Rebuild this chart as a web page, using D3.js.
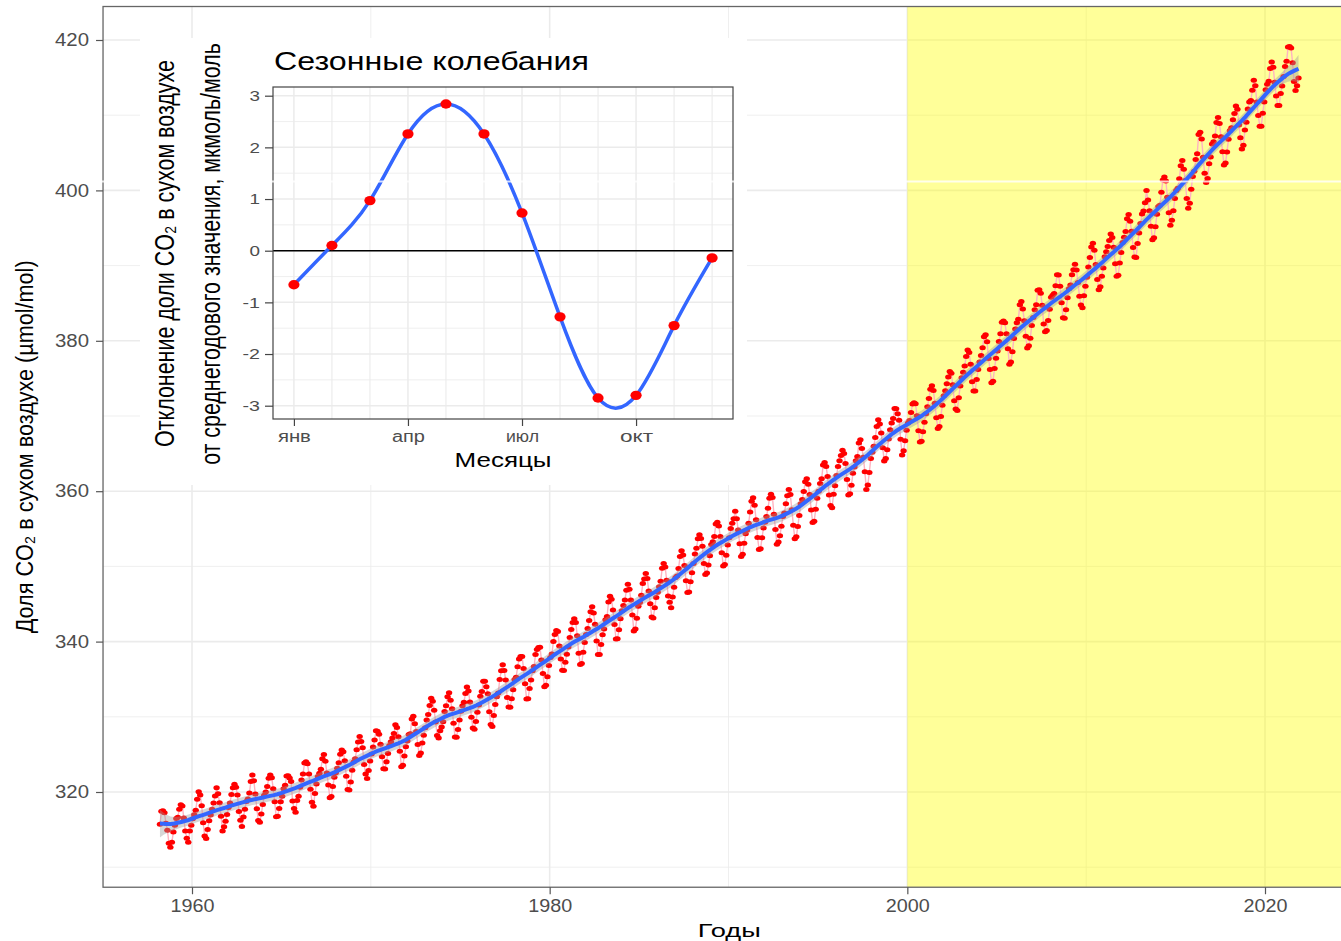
<!DOCTYPE html>
<html><head><meta charset="utf-8">
<script src="https://cdn.jsdelivr.net/npm/d3@7"></script>
<style>body{margin:0;background:#fff}svg{display:block}</style>
</head><body><svg id="chart" width="1341" height="941"></svg>
<script>
// ---------------- DATA ----------------
const co2Years = [1958,1959,1960,1961,1962,1963,1964,1965,1966,1967,1968,1969,1970,1971,1972,1973,1974,1975,1976,1977,1978,1979,1980,1981,1982,1983,1984,1985,1986,1987,1988,1989,1990,1991,1992,1993,1994,1995,1996,1997,1998,1999,2000,2001,2002,2003,2004,2005,2006,2007,2008,2009,2010,2011,2012,2013,2014,2015,2016,2017,2018,2019,2020,2021];
// monthly CO2 (µmol/mol), Jan..Dec for each year above
const co2ByYear = [
[null,null,315.70,317.45,317.51,317.24,315.86,314.93,313.20,312.66,313.33,314.67],
[315.58,316.49,316.65,317.72,318.29,318.15,316.54,314.80,313.84,313.33,314.81,315.58],
[316.43,316.98,317.58,319.03,320.04,319.59,318.18,315.91,314.16,313.83,315.00,316.19],
[316.93,317.70,318.54,319.48,320.58,319.77,318.57,316.79,314.80,315.38,316.10,317.01],
[317.94,318.55,319.68,320.57,321.02,320.62,319.61,317.40,316.25,315.42,316.69,317.70],
[318.74,319.07,319.86,321.38,322.25,321.48,319.74,317.77,316.21,315.99,317.07,318.35],
[319.57,320.01,320.74,321.84,322.26,321.89,320.44,318.70,316.70,316.79,317.79,318.71],
[319.44,320.44,320.89,322.13,322.16,321.87,321.39,318.81,317.81,317.30,318.87,319.42],
[320.62,321.59,322.39,323.87,324.01,323.75,322.39,320.37,318.64,318.10,319.79,321.08],
[322.07,322.50,323.04,324.42,325.00,324.09,322.54,320.92,319.25,319.39,320.73,321.96],
[322.57,323.15,323.89,325.02,325.57,325.36,324.14,322.11,320.33,320.25,321.32,322.89],
[324.00,324.42,325.63,326.66,327.38,326.71,325.88,323.66,322.38,321.78,322.85,324.12],
[325.06,325.98,326.93,328.13,328.08,327.67,326.34,324.69,323.10,323.06,324.01,325.13],
[326.17,326.68,327.17,327.79,328.93,328.57,327.36,325.43,323.36,323.56,324.80,326.01],
[326.77,327.63,327.75,329.72,330.07,329.09,328.04,326.32,324.84,325.20,326.50,327.55],
[328.55,329.56,330.30,331.50,332.48,332.07,330.87,329.31,327.51,327.18,328.16,328.64],
[329.35,330.71,331.48,332.65,333.19,332.20,331.07,329.15,327.33,327.28,328.31,329.58],
[330.73,331.46,331.94,333.11,333.95,333.42,331.97,329.95,328.50,328.36,329.38,330.62],
[331.56,332.74,333.36,334.74,334.72,333.98,333.08,330.68,328.96,328.72,330.16,331.62],
[332.68,333.17,334.96,336.14,336.93,336.17,334.88,332.56,331.29,331.27,332.41,333.60],
[334.95,335.25,336.66,337.69,338.03,338.01,336.41,334.41,332.37,332.41,333.75,334.90],
[336.14,336.69,338.27,338.95,339.21,339.26,337.54,335.75,333.98,334.19,335.31,336.81],
[337.90,338.34,340.01,340.93,341.48,341.33,339.40,337.70,336.19,336.15,337.27,338.32],
[339.29,340.55,341.61,342.53,343.03,342.54,340.78,338.44,336.95,337.08,338.58,339.88],
[340.96,341.73,342.81,343.97,344.63,343.79,342.32,340.09,338.28,338.29,339.60,340.90],
[341.68,342.90,343.33,345.25,346.03,345.63,344.19,342.27,340.35,340.38,341.59,343.05],
[344.10,344.79,345.52,346.84,347.63,346.97,345.53,343.55,341.40,341.67,343.10,344.70],
[345.21,346.16,347.74,348.34,349.06,348.38,346.72,345.02,343.27,343.13,344.49,345.88],
[346.56,347.28,348.01,349.77,350.38,349.93,348.16,346.08,345.22,344.51,345.93,347.22],
[348.52,348.73,349.73,351.31,352.09,351.53,350.11,348.08,346.52,346.59,347.96,349.16],
[350.39,351.64,352.40,353.69,354.21,353.72,352.69,350.40,348.92,349.13,350.20,351.41],
[352.91,353.27,353.96,355.64,355.86,355.37,353.99,351.81,350.05,350.25,351.49,352.85],
[353.80,355.04,355.73,356.32,357.32,356.34,354.84,353.01,351.31,351.62,353.07,354.33],
[354.84,355.73,357.23,358.66,359.13,358.13,356.19,353.85,352.25,352.35,353.81,355.12],
[355.88,356.63,357.72,359.07,359.58,359.17,356.94,354.92,352.94,353.23,354.09,355.33],
[356.63,357.10,358.32,359.41,360.23,359.55,357.53,355.48,353.67,353.95,355.30,356.78],
[358.34,358.89,359.95,361.25,361.67,360.94,359.55,357.49,355.84,356.00,357.59,359.05],
[359.98,361.03,361.66,363.48,363.82,363.30,361.94,359.50,358.11,357.80,359.61,360.74],
[362.09,363.29,364.06,364.76,365.45,365.01,363.70,361.54,359.51,359.65,360.80,362.38],
[363.23,364.06,364.61,366.40,366.84,365.68,364.52,362.57,360.24,360.83,362.49,364.34],
[365.18,365.98,367.13,368.61,369.49,368.95,367.74,365.79,364.01,364.35,365.52,366.93],
[368.18,369.07,369.68,370.99,370.96,370.30,369.45,366.90,364.81,365.37,366.72,368.10],
[369.08,369.40,370.45,371.59,371.75,371.62,370.04,368.04,366.54,366.63,367.91,369.17],
[370.29,371.24,372.33,373.55,374.03,373.40,371.68,369.78,368.34,368.61,369.94,371.42],
[372.70,373.37,374.30,375.19,375.93,375.69,374.16,372.03,370.92,370.73,372.43,373.98],
[375.07,375.82,376.64,377.92,378.78,378.46,376.88,374.57,373.34,373.31,374.84,376.17],
[377.17,378.05,379.06,380.54,380.80,379.87,377.65,376.17,374.43,374.63,376.33,377.68],
[378.63,379.91,380.95,382.48,382.64,382.40,380.93,378.93,376.89,377.19,378.54,380.31],
[381.58,382.40,382.86,384.80,385.22,384.24,382.65,380.60,379.04,379.33,380.35,382.02],
[383.10,384.12,384.81,386.73,386.78,386.33,384.73,382.24,381.20,381.37,382.70,384.19],
[385.78,386.06,386.28,387.33,388.78,388.76,387.24,385.05,383.07,383.01,384.12,385.71],
[386.92,387.41,388.77,389.46,390.18,389.43,387.74,385.91,384.77,384.38,385.99,387.27],
[388.45,389.82,391.08,392.46,392.96,392.03,390.13,388.15,386.80,387.18,388.59,389.68],
[391.18,391.83,392.54,393.34,394.21,393.74,392.45,390.25,388.57,388.71,390.33,391.75],
[393.08,393.77,394.54,396.23,396.81,395.91,394.56,392.42,391.14,391.09,392.93,394.33],
[395.61,396.85,397.26,398.35,399.98,398.73,397.31,395.23,393.45,393.70,395.16,396.84],
[397.85,398.01,399.77,401.38,401.78,401.25,399.10,397.03,395.38,396.03,397.28,398.91],
[399.98,400.28,401.54,403.28,403.96,402.80,401.31,398.93,397.63,398.29,400.16,401.85],
[402.56,404.12,404.87,407.45,407.72,406.83,404.41,402.27,401.05,401.59,403.55,404.45],
[406.17,406.46,407.22,409.04,409.69,408.88,407.12,405.13,403.37,403.63,405.12,406.81],
[407.96,408.32,409.41,410.24,411.24,410.79,408.71,406.99,405.51,406.00,408.02,409.07],
[410.83,411.75,411.97,413.32,414.66,413.92,411.77,409.95,408.54,408.53,410.27,411.76],
[413.39,414.11,414.51,416.21,417.07,416.39,414.38,412.55,411.29,411.28,412.89,413.89],
[415.15,416.47,417.16,419.07,419.13,418.94,416.96,414.47,413.30,413.93,414.94,null]
];
const xTicksMajor = [1960, 1980, 2000, 2020];
const xTicksMinor = [1970, 1990, 2010];
const yTicksMajor = [320, 340, 360, 380, 400, 420];
const yTicksMinor = [310, 330, 350, 370, 390, 410];
const highlightStartYear = 2000;

const seasonalMonths = [1,2,3,4,5,6,7,8,9,10,11,12];
const seasonalAnomaly = [-0.66, 0.10, 0.97, 2.26, 2.84, 2.26, 0.73, -1.28, -2.85, -2.80, -1.45, -0.14];
const insetMonthTicks = [1, 4, 7, 10];
const insetMonthLabels = ["янв", "апр", "июл", "окт"];
const insetYTicks = [-3, -2, -1, 0, 1, 2, 3];
const insetYMinor = [-2.5, -1.5, -0.5, 0.5, 1.5, 2.5];

const texts = {
  xTitle: "Годы",
  yTitle: "Доля CO₂ в сухом воздухе (µmol/mol)",
  insetTitle: "Сезонные колебания",
  insetX: "Месяцы",
  insetY1: "Отклонение доли CO₂ в сухом воздухе",
  insetY2: "от среднегодового значения, мкмоль/моль"
};

// ---------------- DRAW ----------------
const FONT = '"Liberation Sans", Arial, Helvetica, sans-serif';
const svg = d3.select("#chart").attr("font-family", FONT);
svg.append("rect").attr("width", 1341).attr("height", 941).attr("fill", "#fff");

// text of given glyph size, stretched along its run to a measured length
function addText(parent, str, o) {
  const t = parent.append("text").text(str)
    .attr("x", 0).attr("y", 0)
    .attr("font-size", o.size).attr("fill", o.fill || "#000")
    .attr("text-anchor", o.anchor || "start").attr("font-family", FONT);
  const natural = t.node().getComputedTextLength();
  const sx = o.len ? o.len / natural : 1;
  const rot = o.rotate ? " rotate(-90)" : "";
  t.attr("transform", `translate(${o.x},${o.y})${rot} scale(${sx},1)`);
  return t;
}

const points = [];
co2Years.forEach((yr, i) => co2ByYear[i].forEach((v, m) => {
  if (v !== null) points.push({ t: yr + (m + 0.5) / 12, v: v });
}));

const x = d3.scaleLinear().domain([1960, 2020]).range([192, 1265]);
const y = d3.scaleLinear().domain([320, 420]).range([792, 40]);
const tExt = d3.extent(points, d => d.t), vExt = d3.extent(points, d => d.v);
const tPad = (tExt[1] - tExt[0]) * 0.05, vPad = (vExt[1] - vExt[0]) * 0.05;
const P = { l: x(tExt[0] - tPad), r: x(tExt[1] + tPad), t: y(vExt[1] + vPad), b: y(vExt[0] - vPad) };

const defs = svg.append("defs");
defs.append("clipPath").attr("id", "clipMain").append("rect")
  .attr("x", P.l).attr("y", P.t).attr("width", P.r - P.l).attr("height", P.b - P.t);

const gMain = svg.append("g").attr("clip-path", "url(#clipMain)");
// grid
xTicksMinor.forEach(v => gMain.append("line").attr("x1", x(v)).attr("x2", x(v)).attr("y1", P.t).attr("y2", P.b).attr("stroke", "#ebebeb").attr("stroke-width", 0.8));
yTicksMinor.forEach(v => gMain.append("line").attr("y1", y(v)).attr("y2", y(v)).attr("x1", P.l).attr("x2", P.r).attr("stroke", "#ebebeb").attr("stroke-width", 0.8));
xTicksMajor.forEach(v => gMain.append("line").attr("x1", x(v)).attr("x2", x(v)).attr("y1", P.t).attr("y2", P.b).attr("stroke", "#ebebeb").attr("stroke-width", 1.6));
yTicksMajor.forEach(v => gMain.append("line").attr("y1", y(v)).attr("y2", y(v)).attr("x1", P.l).attr("x2", P.r).attr("stroke", "#ebebeb").attr("stroke-width", 1.6));

// highlight
gMain.append("rect").attr("x", x(highlightStartYear)).attr("y", P.t)
  .attr("width", P.r - x(highlightStartYear)).attr("height", P.b - P.t)
  .attr("fill", "yellow").attr("fill-opacity", 0.4);

// connecting line
gMain.append("path").datum(points)
  .attr("d", d3.line().x(d => x(d.t)).y(d => y(d.v)))
  .attr("fill", "none").attr("stroke", "#ffb3c1").attr("stroke-width", 1.4);

// points
gMain.append("g").selectAll("ellipse").data(points).join("ellipse")
  .attr("cx", d => x(d.t)).attr("cy", d => y(d.v))
  .attr("rx", 3.2).attr("ry", 2.5).attr("fill", "#ff0000");

// local linear smoother (tricube) computed from the data
const H = 2.0;
function localFit(t0) {
  let S0 = 0, S1 = 0, S2 = 0; const ws = [];
  for (const p of points) {
    const d = p.t - t0, u = Math.abs(d) / H;
    if (u < 1) { const w = Math.pow(1 - u * u * u, 3); ws.push([w, d, p.v]); S0 += w; S1 += w * d; S2 += w * d * d; }
  }
  const den = S0 * S2 - S1 * S1;
  let fit = 0, l2 = 0;
  for (const [w, d, v] of ws) { const l = w * (S2 - d * S1) / den; fit += l * v; l2 += l * l; }
  return { fit, l2 };
}
const resid = points.map(p => p.v - localFit(p.t).fit);
const sigma = Math.sqrt(d3.sum(resid, r => r * r) / (resid.length - 10));
const nGrid = 320;
const smooth = [];
for (let i = 0; i <= nGrid; i++) {
  const t = tExt[0] + (tExt[1] - tExt[0]) * i / nGrid;
  const f = localFit(t);
  const se = sigma * Math.sqrt(f.l2);
  smooth.push({ t, fit: f.fit, lo: f.fit - 1.96 * se, hi: f.fit + 1.96 * se });
}
gMain.append("path").datum(smooth)
  .attr("d", d3.area().x(d => x(d.t)).y0(d => y(d.lo)).y1(d => y(d.hi)))
  .attr("fill", "#999999").attr("fill-opacity", 0.4);
gMain.append("path").datum(smooth)
  .attr("d", d3.line().x(d => x(d.t)).y(d => y(d.fit)))
  .attr("fill", "none").attr("stroke", "#3366ff").attr("stroke-width", 4);

// panel border
svg.append("rect").attr("x", P.l).attr("y", P.t).attr("width", P.r - P.l).attr("height", P.b - P.t)
  .attr("fill", "none").attr("stroke", "#666").attr("stroke-width", 1.3);

// axes
const gy = svg.append("g").attr("transform", `translate(${P.l},0)`)
  .call(d3.axisLeft(y).tickValues(yTicksMajor).tickSize(7).tickPadding(7).tickFormat(d => String(d)));
gy.select(".domain").remove();
gy.selectAll(".tick line").attr("stroke", "#555").attr("stroke-width", 1.2);
gy.selectAll(".tick text").attr("font-size", 17.5).attr("fill", "#4d4d4d").attr("font-family", FONT)
  .attr("textLength", 34).attr("lengthAdjust", "spacingAndGlyphs");

const gx = svg.append("g").attr("transform", `translate(0,${P.b})`)
  .call(d3.axisBottom(x).tickValues(xTicksMajor).tickSize(7).tickPadding(5).tickFormat(d => String(d)));
gx.select(".domain").remove();
gx.selectAll(".tick line").attr("stroke", "#555").attr("stroke-width", 1.2);
gx.selectAll(".tick text").attr("font-size", 17.5).attr("fill", "#4d4d4d").attr("font-family", FONT)
  .attr("textLength", 44).attr("lengthAdjust", "spacingAndGlyphs");

addText(svg, texts.xTitle, { x: (P.l + P.r) / 2, y: 937, size: 19, anchor: "middle", len: 63 });
addText(svg, texts.yTitle, { x: 33, y: (P.t + P.b) / 2, size: 24, anchor: "middle", len: 373, rotate: true });

// ---------------- INSET ----------------
const gIn = svg.append("g");
gIn.append("rect").attr("x", 140).attr("y", 38).attr("width", 607).attr("height", 447).attr("fill", "#fff");

const ix = d3.scaleLinear().domain([0.45, 12.55]).range([273, 733]);
const iy = d3.scaleLinear().domain([-3, 3]).range([405.7, 95.7]);
const IP = { l: 273, r: 733, t: 87, b: 419 };

gIn.append("rect").attr("x", IP.l).attr("y", IP.t).attr("width", IP.r - IP.l).attr("height", IP.b - IP.t).attr("fill", "#fff");
insetYMinor.forEach(v => gIn.append("line").attr("x1", IP.l).attr("x2", IP.r).attr("y1", iy(v)).attr("y2", iy(v)).attr("stroke", "#ebebeb").attr("stroke-width", 0.8));
insetYTicks.forEach(v => gIn.append("line").attr("x1", IP.l).attr("x2", IP.r).attr("y1", iy(v)).attr("y2", iy(v)).attr("stroke", "#ebebeb").attr("stroke-width", 1.5));
seasonalMonths.forEach(m => gIn.append("line").attr("x1", ix(m)).attr("x2", ix(m)).attr("y1", IP.t).attr("y2", IP.b)
  .attr("stroke", "#ebebeb").attr("stroke-width", insetMonthTicks.includes(m) ? 1.5 : 1.1));

gIn.append("line").attr("x1", IP.l).attr("x2", IP.r).attr("y1", iy(0)).attr("y2", iy(0)).attr("stroke", "#000").attr("stroke-width", 1.5);

const seasonal = seasonalMonths.map((m, i) => ({ m, a: seasonalAnomaly[i] }));
gIn.append("path").datum(seasonal)
  .attr("d", d3.line().x(d => ix(d.m)).y(d => iy(d.a)).curve(d3.curveNatural))
  .attr("fill", "none").attr("stroke", "#3366ff").attr("stroke-width", 3.5);
gIn.append("g").selectAll("ellipse").data(seasonal).join("ellipse")
  .attr("cx", d => ix(d.m)).attr("cy", d => iy(d.a)).attr("rx", 5.6).attr("ry", 4.7).attr("fill", "#ff0000");

gIn.append("rect").attr("x", IP.l).attr("y", IP.t).attr("width", IP.r - IP.l).attr("height", IP.b - IP.t)
  .attr("fill", "none").attr("stroke", "#444").attr("stroke-width", 1.2);

const giy = gIn.append("g").attr("transform", `translate(${IP.l},0)`)
  .call(d3.axisLeft(iy).tickValues(insetYTicks).tickSize(8).tickPadding(5).tickFormat(d => String(d)));
giy.select(".domain").remove();
giy.selectAll(".tick line").attr("stroke", "#444").attr("stroke-width", 1.2);
giy.selectAll(".tick text").attr("font-size", 14.5).attr("fill", "#4d4d4d").attr("font-family", FONT)
  .attr("textLength", d => d < 0 ? 17.5 : 10.5).attr("lengthAdjust", "spacingAndGlyphs");

const gix = gIn.append("g").attr("transform", `translate(0,${IP.b})`)
  .call(d3.axisBottom(ix).tickValues(insetMonthTicks).tickSize(7).tickPadding(5)
    .tickFormat(d => insetMonthLabels[insetMonthTicks.indexOf(d)]));
gix.select(".domain").remove();
gix.selectAll(".tick line").attr("stroke", "#444").attr("stroke-width", 1.2);
gix.selectAll(".tick text").attr("font-size", 16).attr("fill", "#4d4d4d").attr("font-family", FONT)
  .attr("textLength", 33).attr("lengthAdjust", "spacingAndGlyphs");

addText(gIn, texts.insetTitle, { x: 274, y: 69.5, size: 26, len: 315 });
addText(gIn, texts.insetX, { x: (IP.l + IP.r) / 2, y: 467, size: 20, anchor: "middle", len: 97 });
addText(gIn, texts.insetY1, { x: 174, y: 253.5, size: 28, anchor: "middle", len: 387, rotate: true });
addText(gIn, texts.insetY2, { x: 220, y: 254, size: 28, anchor: "middle", len: 422, rotate: true });

// thin light seam across the picture (kept clear of the rotated titles)
[[0, 148], [228, 1341]].forEach(([a, b]) =>
  svg.append("rect").attr("x", a).attr("y", 180.5).attr("width", b - a).attr("height", 2)
    .attr("fill", "#fff").attr("fill-opacity", 0.8));
</script>
</body></html>
